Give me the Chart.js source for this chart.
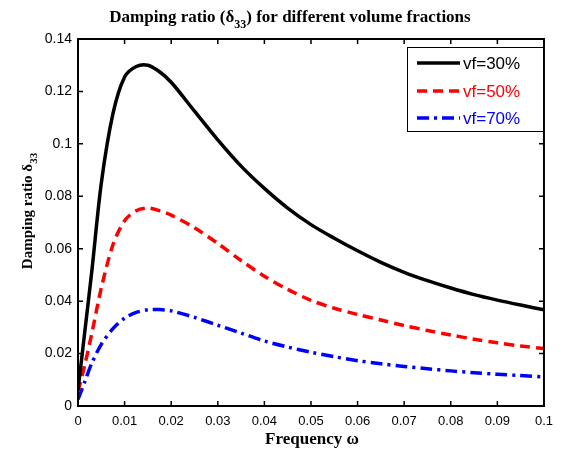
<!DOCTYPE html>
<html>
<head>
<meta charset="utf-8">
<script src="https://cdn.jsdelivr.net/npm/chart.js@4.4.0/dist/chart.umd.min.js"></script>
<style>
  html, body { margin: 0; padding: 0; background: #fff; }
</style>
</head>
<body>
<canvas id="dampChart" width="561" height="454"></canvas>
<script>
// frequency samples shared by all three curves
const freq = [0, 0.0015, 0.003, 0.005, 0.0075, 0.01, 0.0125, 0.015, 0.0175, 0.02,
              0.025, 0.03, 0.035, 0.04, 0.045, 0.05, 0.055, 0.06, 0.065, 0.07,
              0.075, 0.08, 0.085, 0.09, 0.095, 0.1];

const vf30 = [0.006, 0.029, 0.052, 0.085, 0.1115, 0.1255, 0.1295, 0.130, 0.1275, 0.1235,
              0.1125, 0.1015, 0.0915, 0.083, 0.0755, 0.0692, 0.064, 0.0592, 0.0548, 0.051,
              0.0478, 0.045, 0.0425, 0.0404, 0.0385, 0.0367];

const vf50 = [0.0055, 0.016, 0.028, 0.045, 0.0615, 0.0707, 0.0745, 0.0755, 0.0745, 0.0728,
              0.068, 0.062, 0.0555, 0.0495, 0.0445, 0.0403, 0.0373, 0.0349, 0.0328, 0.0307,
              0.0288, 0.0271, 0.0255, 0.0241, 0.0229, 0.0219];

const vf70 = [0.0025, 0.0095, 0.0165, 0.0235, 0.0295, 0.0335, 0.0357, 0.0367, 0.0368, 0.0363,
              0.0338, 0.0308, 0.0278, 0.0248, 0.0225, 0.0205, 0.0188, 0.0173, 0.0161, 0.0151,
              0.0142, 0.0134, 0.0127, 0.0121, 0.0116, 0.0111];

const seriesLabels = ['vf=30%', 'vf=50%', 'vf=70%'];

const pts = arr => arr.map((v, i) => ({ x: freq[i], y: v }));

// text with a lowered, smaller "33" part
function drawSub(ctx, parts, cx, cy, size) {
  const big = 'bold ' + size + 'px "Liberation Serif", "Times New Roman", serif';
  const small = 'bold ' + Math.round(size * 0.72) + 'px "Liberation Serif", "Times New Roman", serif';
  let w = 0;
  parts.forEach(p => { ctx.font = p.sub ? small : big; w += ctx.measureText(p.t).width; });
  let x = cx - w / 2;
  ctx.textAlign = 'left';
  ctx.textBaseline = 'alphabetic';
  parts.forEach(p => {
    ctx.font = p.sub ? small : big;
    ctx.fillText(p.t, x, p.sub ? cy + size * 0.35 : cy);
    x += ctx.measureText(p.t).width;
  });
}

const frame = {
  id: 'frame',
  afterDatasetsDraw(chart) {
    const { ctx, chartArea: a, scales: { x, y } } = chart;
    ctx.save();
    ctx.strokeStyle = '#000';
    ctx.lineWidth = 1.5;
    ctx.beginPath();
    x.ticks.forEach(t => {
      const px = x.getPixelForValue(t.value);
      ctx.moveTo(px, a.bottom); ctx.lineTo(px, a.bottom - 5);
      ctx.moveTo(px, a.top); ctx.lineTo(px, a.top + 5);
    });
    y.ticks.forEach(t => {
      const py = y.getPixelForValue(t.value);
      ctx.moveTo(a.left, py); ctx.lineTo(a.left + 5, py);
      ctx.moveTo(a.right, py); ctx.lineTo(a.right - 5, py);
    });
    ctx.stroke();
    ctx.lineWidth = 2;
    ctx.strokeRect(a.left, a.top, a.width, a.height);

    // legend box, upper right
    const lx = 407, ly = 47, lw = 136, lh = 84;
    ctx.fillStyle = '#fff';
    ctx.fillRect(lx, ly, lw, lh);
    ctx.lineWidth = 1;
    ctx.strokeRect(lx + 0.5, ly + 0.5, lw, lh);
    const rows = [63, 91, 118];
    chart.data.datasets.forEach((ds, i) => {
      ctx.strokeStyle = ds.borderColor;
      ctx.lineWidth = ds.borderWidth;
      ctx.setLineDash(ds.borderDash || []);
      ctx.beginPath();
      ctx.moveTo(417, rows[i]);
      ctx.lineTo(460, rows[i]);
      ctx.stroke();
      ctx.setLineDash([]);
      ctx.fillStyle = ds.borderColor;
      ctx.font = '17px "Liberation Sans", Arial, sans-serif';
      ctx.textAlign = 'left';
      ctx.textBaseline = 'middle';
      ctx.fillText(ds.label, 463, rows[i] + 1);
    });

    // titles
    ctx.fillStyle = '#000';
    drawSub(ctx, [{ t: 'Damping ratio (δ' }, { t: '33', sub: true }, { t: ') for different volume fractions' }], 290, 22, 17);
    drawSub(ctx, [{ t: 'Frequency ω' }], 312, 444, 17);
    ctx.translate(32, 211);
    ctx.rotate(-Math.PI / 2);
    drawSub(ctx, [{ t: 'Damping ratio δ' }, { t: '33', sub: true }], 0, 0, 15);
    ctx.restore();
  }
};

new Chart('dampChart', {
  type: 'line',
  data: {
    datasets: [
      { label: seriesLabels[0], data: pts(vf30), borderColor: '#000000', borderWidth: 3.5 },
      { label: seriesLabels[1], data: pts(vf50), borderColor: '#ff0000', borderWidth: 3.5, borderDash: [10, 6] },
      { label: seriesLabels[2], data: pts(vf70), borderColor: '#0000ff', borderWidth: 3.5, borderDash: [12, 5, 3, 5] }
    ]
  },
  options: {
    responsive: false,
    animation: false,
    layout: { padding: { top: 39, right: 15, left: 0, bottom: 0 } },
    elements: {
      point: { radius: 0 },
      line: { tension: 0.3, fill: false }
    },
    plugins: { legend: { display: false }, title: { display: false }, tooltip: { enabled: false } },
    scales: {
      x: {
        type: 'linear', min: 0, max: 0.1,
        grid: { display: false, drawTicks: false },
        border: { display: false },
        afterFit: s => { s.height = 48; },
        ticks: {
          stepSize: 0.01, padding: 8, color: '#000',
          font: { family: '"Liberation Sans", Arial, sans-serif', size: 13 },
          callback: v => v === 0 ? '0' : String(parseFloat(v.toFixed(2)))
        }
      },
      y: {
        min: 0, max: 0.14,
        grid: { display: false, drawTicks: false },
        border: { display: false },
        afterFit: s => { s.width = 78; },
        ticks: {
          stepSize: 0.02, padding: 6, color: '#000',
          font: { family: '"Liberation Sans", Arial, sans-serif', size: 14 },
          callback: v => v === 0 ? '0' : String(parseFloat(v.toFixed(2)))
        }
      }
    }
  },
  plugins: [frame]
});
</script>
</body>
</html>
